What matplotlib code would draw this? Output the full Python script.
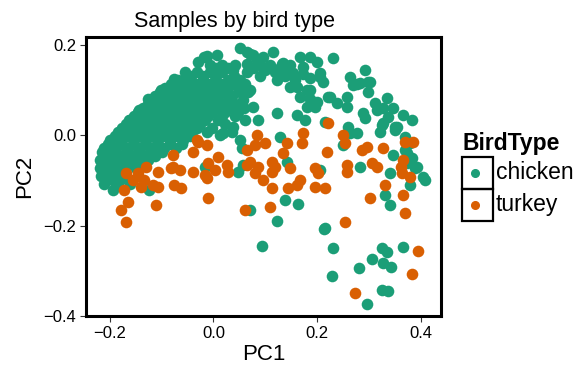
import matplotlib
matplotlib.use("Agg")
import matplotlib.pyplot as plt
from matplotlib.patches import Rectangle
from matplotlib.lines import Line2D
from matplotlib.ticker import FuncFormatter
import numpy as np

plt.rcParams['font.family'] = ['Liberation Sans', 'DejaVu Sans']

# PCA scores (PC1, PC2)
chicken_points = [
    # outer / sparse
    (0.051, 0.194), (0.065, 0.185), (0.076, 0.178), (0.095, 0.174), (0.115, 0.185),
    (-0.013, 0.176), (0.007, 0.178), (-0.030, 0.163), (-0.018, 0.174), (0.134, 0.161),
    (0.167, 0.174), (0.186, 0.174), (0.200, 0.163), (0.230, 0.172), (0.173, 0.152),
    (0.205, 0.138), (0.211, 0.119), (0.186, 0.127), (0.153, 0.138), (0.161, 0.107),
    (0.186, 0.101), (0.167, 0.085), (0.180, 0.063), (0.200, 0.074), (0.225, 0.085),
    (0.238, 0.072), (0.257, 0.085), (0.257, 0.063), (0.122, 0.050), (0.161, 0.045),
    (0.176, 0.034), (0.215, 0.030), (0.263, 0.130), (0.292, 0.145), (0.298, 0.119),
    (0.283, 0.116), (0.298, 0.096), (0.288, 0.050), (0.292, 0.039), (0.311, 0.072),
    (0.315, 0.056), (0.335, 0.083), (0.327, 0.061), (0.346, 0.061), (0.337, 0.041),
    (0.327, 0.028), (0.354, 0.019), (0.365, 0.045), (0.383, 0.034), (0.369, -0.003),
    (0.379, -0.017), (0.128, -0.003), (0.259, 0.019), (0.263, 0.006), (0.346, -0.043),
    (0.373, -0.039), (0.373, -0.061), (0.392, -0.070), (0.340, -0.083), (0.404, -0.092),
    (0.408, -0.099), (0.250, -0.021), (0.283, -0.070), (0.205, -0.076), (0.142, -0.059),
    (0.277, 0.006), (0.321, 0.008), (0.350, 0.012), (0.369, -0.032), (0.383, -0.050),
    (0.389, -0.072), (0.379, -0.109), (0.331, -0.132), (0.340, -0.154), (0.215, -0.205),
    (0.138, -0.143), (0.163, -0.152), (0.122, -0.189), (0.094, -0.245), (0.213, -0.207),
    (0.230, -0.249), (0.229, -0.311), (0.281, -0.293), (0.306, -0.274), (0.325, -0.249),
    (0.335, -0.258), (0.327, -0.282), (0.342, -0.291), (0.365, -0.247), (0.325, -0.342),
    (0.337, -0.344), (0.296, -0.373), (0.070, -0.165), (-0.013, 0.008), (0.013, 0.001),
    (0.051, -0.010), (0.055, -0.028), (0.047, -0.081), (0.057, -0.065), (-0.016, -0.070),
    (0.026, 0.101), (0.057, 0.079), (0.067, 0.096), (0.038, 0.019), (0.018, 0.006),
    (0.070, 0.181), (0.132, 0.158), (0.148, 0.136), (0.173, 0.136), (0.065, 0.158),
    (0.084, 0.167), (0.099, 0.145), (0.038, 0.145), (0.070, 0.101), (0.076, 0.063),
    (0.086, 0.034), (0.122, 0.123), (0.148, 0.107), (0.180, 0.101), (0.196, 0.063),
    (0.186, 0.081), (0.277, 0.114), (0.302, 0.119), (0.269, 0.112), (0.221, 0.085),
    (0.325, 0.023), (0.350, 0.019), (0.205, 0.130),
    (-0.201, -0.028), (-0.182, 0.001), (-0.163, 0.034), (-0.144, 0.056), (-0.126, 0.081),
    (-0.101, 0.101), (-0.076, 0.125), (-0.053, 0.127),
    # dense cluster
    (-0.007, 0.156), (0.016, 0.156), (0.041, 0.156), (0.090, 0.156), (0.109, 0.156), (0.148, 0.156),
    (0.005, 0.150), (0.028, 0.150), (0.076, 0.150), (0.099, 0.150), (0.128, 0.150),
    (-0.055, 0.141), (-0.032, 0.141), (-0.007, 0.141), (0.016, 0.141), (0.065, 0.141),
    (0.119, 0.141), (0.138, 0.141),
    (-0.043, 0.132), (-0.020, 0.132), (0.005, 0.132), (0.040, 0.132), (0.090, 0.132), (0.138, 0.132),
    (-0.068, 0.123), (-0.045, 0.123), (-0.020, 0.123), (0.003, 0.123), (0.028, 0.123),
    (0.051, 0.123), (0.157, 0.123),
    (-0.082, 0.114), (-0.057, 0.114), (-0.034, 0.114), (-0.009, 0.114), (0.014, 0.114),
    (0.040, 0.114), (0.061, 0.114),
    (-0.094, 0.105), (-0.070, 0.105), (-0.045, 0.105), (-0.020, 0.105), (0.003, 0.105), (0.047, 0.105),
    (-0.103, 0.096), (-0.080, 0.096), (-0.057, 0.096), (-0.032, 0.096), (-0.007, 0.096),
    (0.016, 0.096), (0.051, 0.096),
    (-0.113, 0.087), (-0.088, 0.087), (-0.065, 0.087), (-0.040, 0.087), (-0.016, 0.087),
    (0.009, 0.087), (0.036, 0.087),
    (-0.119, 0.079), (-0.097, 0.079), (-0.072, 0.079), (-0.049, 0.079), (-0.024, 0.079),
    (0.001, 0.079), (0.028, 0.079),
    (-0.126, 0.070), (-0.103, 0.070), (-0.080, 0.070), (-0.055, 0.070), (-0.030, 0.070),
    (-0.007, 0.070), (0.016, 0.070), (0.041, 0.070),
    (-0.136, 0.061), (-0.113, 0.061), (-0.090, 0.061), (-0.065, 0.061), (-0.041, 0.061),
    (-0.016, 0.061), (0.009, 0.061), (0.032, 0.061), (0.059, 0.061),
    (-0.146, 0.052), (-0.122, 0.052), (-0.099, 0.052), (-0.074, 0.052), (-0.049, 0.052),
    (-0.026, 0.052), (-0.003, 0.052), (0.022, 0.052), (0.047, 0.052),
    (-0.153, 0.043), (-0.130, 0.043), (-0.107, 0.043), (-0.084, 0.043), (-0.059, 0.043),
    (-0.036, 0.043), (-0.011, 0.043), (0.016, 0.043), (0.041, 0.043),
    (-0.161, 0.034), (-0.138, 0.034), (-0.113, 0.034), (-0.090, 0.034), (-0.065, 0.034),
    (-0.041, 0.034), (-0.016, 0.034), (0.009, 0.034), (0.061, 0.034),
    (-0.169, 0.025), (-0.146, 0.025), (-0.122, 0.025), (-0.099, 0.025), (-0.074, 0.025),
    (-0.049, 0.025), (-0.026, 0.025), (0.022, 0.025),
    (-0.177, 0.017), (-0.151, 0.017), (-0.128, 0.017), (-0.103, 0.017), (-0.080, 0.017),
    (-0.055, 0.017), (-0.032, 0.017), (-0.003, 0.017),
    (-0.184, 0.008), (-0.161, 0.008), (-0.138, 0.008), (-0.113, 0.008), (-0.090, 0.008),
    (-0.065, 0.008), (-0.041, 0.008), (0.036, 0.008),
    (-0.190, -0.001), (-0.165, -0.001), (-0.142, -0.001), (-0.119, -0.001), (-0.094, -0.001),
    (-0.070, -0.001), (-0.045, -0.001),
    (-0.200, -0.010), (-0.177, -0.010), (-0.153, -0.010), (-0.130, -0.010), (-0.107, -0.010),
    (-0.084, -0.010), (-0.059, -0.010),
    (-0.203, -0.019), (-0.180, -0.019), (-0.155, -0.019), (-0.132, -0.019), (-0.109, -0.019),
    (-0.084, -0.019), (-0.061, -0.019),
    (-0.211, -0.028), (-0.188, -0.028), (-0.165, -0.028), (-0.142, -0.028), (-0.119, -0.028),
    (-0.096, -0.028), (-0.072, -0.028),
    (-0.215, -0.037), (-0.192, -0.037), (-0.169, -0.037), (-0.146, -0.037), (-0.122, -0.037),
    (-0.099, -0.037),
    (-0.207, -0.045), (-0.184, -0.045), (-0.161, -0.045), (-0.138, -0.045), (-0.113, -0.045),
    (-0.219, -0.054), (-0.196, -0.054), (-0.173, -0.054), (-0.150, -0.054), (-0.126, -0.054),
    (-0.207, -0.063), (-0.184, -0.063), (-0.161, -0.063), (-0.138, -0.063),
    (-0.219, -0.072), (-0.196, -0.072), (-0.173, -0.072), (-0.150, -0.072),
    (-0.207, -0.081), (-0.184, -0.081),
    (-0.217, -0.090), (-0.194, -0.090), (-0.171, -0.090),
    (-0.205, -0.099), (-0.180, -0.099),
    (-0.211, -0.107), (-0.188, -0.107), (-0.161, -0.107),
    (-0.194, -0.121), (-0.124, -0.121),
]

turkey_points = [
    (-0.032, -0.010), (-0.013, -0.021), (-0.040, -0.037), (-0.078, -0.043), (0.009, -0.048),
    (-0.011, -0.061), (0.026, -0.065), (-0.169, -0.083), (-0.146, -0.083), (-0.130, -0.070),
    (-0.107, -0.081), (-0.078, -0.070), (-0.065, -0.076), (-0.040, -0.081), (-0.016, -0.087),
    (0.003, -0.076), (0.028, -0.081), (0.065, -0.032), (0.084, 0.001), (0.070, -0.059),
    (0.080, -0.083), (-0.155, -0.099), (-0.134, -0.099), (-0.117, -0.109), (-0.140, -0.114),
    (-0.107, -0.114), (-0.173, -0.121), (-0.165, -0.147), (-0.178, -0.165), (-0.169, -0.192),
    (-0.111, -0.154), (-0.076, -0.109), (-0.063, -0.116), (-0.013, -0.094), (-0.011, -0.138),
    (0.099, -0.017), (0.080, -0.021), (0.065, -0.065), (0.086, -0.070), (0.095, -0.099),
    (0.113, -0.059), (0.119, -0.070), (0.113, -0.081), (0.134, -0.039), (0.142, -0.017),
    (0.173, 0.006), (0.171, -0.017), (0.148, -0.072), (0.113, -0.116), (0.144, -0.116),
    (0.167, -0.099), (0.161, -0.109), (0.196, -0.072), (0.196, -0.114), (0.061, -0.165),
    (0.109, -0.158), (0.221, 0.028), (0.250, 0.001), (0.254, -0.017), (0.219, -0.037),
    (0.286, -0.032), (0.296, -0.025), (0.327, -0.028), (0.369, -0.014), (0.385, -0.014),
    (0.365, -0.054), (0.306, -0.061), (0.315, -0.070), (0.362, -0.070), (0.202, -0.083),
    (0.257, -0.065), (0.257, -0.081), (0.379, -0.092), (0.364, -0.083), (0.331, -0.109),
    (0.302, -0.138), (0.365, -0.132), (0.369, -0.172), (0.215, -0.116), (0.254, -0.192),
    (0.394, -0.256), (0.383, -0.307), (0.273, -0.349), (-0.030, -0.014), (-0.082, -0.072),
]

bird_types = ['chicken', 'turkey']
colors = ['#1B9E77', '#D95F02']

chicken = np.array(chicken_points)
turkey = np.array(turkey_points)

W, H = 584, 365
fig = plt.figure(figsize=(W / 100, H / 100), dpi=100)
ax = fig.add_axes([86 / W, 1 - 316 / H, (441 - 86) / W, (316 - 37) / H])

ax.scatter(chicken[:, 0], chicken[:, 1], s=70, color=colors[0], linewidths=0, zorder=2)
ax.scatter(turkey[:, 0], turkey[:, 1], s=70, color=colors[1], linewidths=0, zorder=3)

ax.set_xlim(-0.246, 0.439)
ax.set_ylim(-0.399, 0.218)
ax.set_xticks([-0.2, 0.0, 0.2, 0.4])
ax.set_yticks([-0.4, -0.2, 0.0, 0.2])
fmt = FuncFormatter(lambda v, pos: f'{v:.1f}'.replace('-', '\u2212'))
ax.xaxis.set_major_formatter(fmt)
ax.yaxis.set_major_formatter(fmt)
ax.tick_params(labelsize=12, length=4, width=0.8, color='#333333', labelcolor='black', pad=3)
for sp in ax.spines.values():
    sp.set_linewidth(2.2)
    sp.set_color('black')

ax.set_xlabel('PC1', fontsize=16, labelpad=2)
ax.set_ylabel('PC2', fontsize=16, labelpad=6)
fig.text(235 / W, 1 - 22 / H, 'Samples by bird type', fontsize=15.5, ha='center', va='center')

# legend drawn by hand to get the boxed keys
fig.text(463 / W, 1 - 143 / H, 'BirdType', fontsize=16.5, fontweight='bold', ha='left', va='center')
key_tops = [157, 189]
for i, name in enumerate(bird_types):
    top = key_tops[i]
    fig.add_artist(Rectangle((462 / W, 1 - (top + 32) / H), 31 / W, 32 / H,
                             transform=fig.transFigure, fill=False, edgecolor='black', linewidth=1.6))
    fig.add_artist(Line2D([475 / W], [1 - (top + 16) / H], transform=fig.transFigure,
                          marker='o', markersize=5.5, color=colors[i], linestyle='none'))
    fig.text(496 / W, 1 - (top + 16) / H, name, fontsize=16.5, ha='left', va='center')

fig.savefig('out.png', dpi=100)
